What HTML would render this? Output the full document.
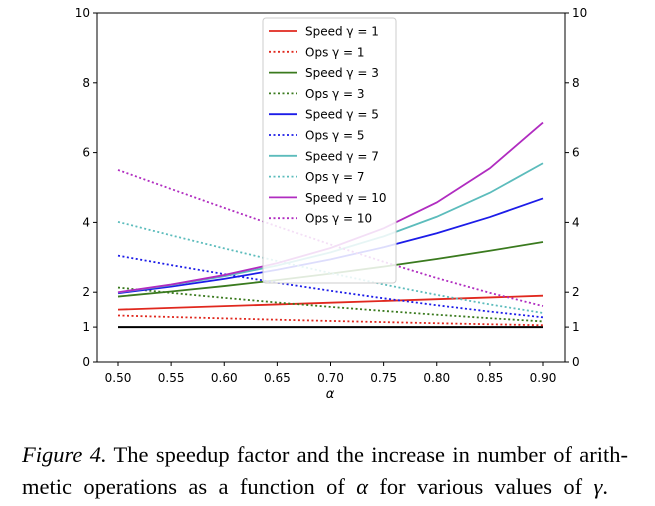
<!DOCTYPE html>
<html><head><meta charset="utf-8"><style>
body{margin:0;background:#fff;width:655px;height:506px;overflow:hidden}
svg text{font-family:"DejaVu Sans",sans-serif}
.cap{position:absolute;left:22px;top:439px;font-family:"Liberation Serif",serif;font-size:22.5px;line-height:32px;color:#000}
.ln{display:block;text-align:justify;text-align-last:justify;white-space:nowrap}
</style></head><body>
<svg id="chart" width="655" height="430" style="position:absolute;left:0;top:0"></svg>
<div class="cap"><span class="ln" style="width:606px"><i>Figure 4.</i> The speedup factor and the increase in number of arith-</span><span class="ln" style="width:586px">metic operations as a function of <i>α</i> for various values of <i>γ</i>.</span></div>
<script>
const alphas=[0.50,0.55,0.60,0.65,0.70,0.75,0.80,0.85,0.90];
const speed1=[1.5,1.55,1.6,1.65,1.7,1.75,1.8,1.85,1.9];
const ops1=[1.333,1.290,1.25,1.212,1.176,1.143,1.111,1.081,1.053];
const speed3=[1.875,2.019,2.176,2.347,2.533,2.734,2.952,3.187,3.439];
const ops3=[2.133,1.981,1.838,1.704,1.579,1.463,1.355,1.255,1.163];
const speed5=[1.969,2.161,2.383,2.642,2.941,3.288,3.690,4.153,4.686];
const ops5=[3.047,2.777,2.518,2.271,2.040,1.825,1.626,1.445,1.280];
const speed7=[1.992,2.204,2.458,2.766,3.141,3.600,4.161,4.850,5.695];
const ops7=[4.016,3.630,3.255,2.892,2.547,2.222,1.923,1.649,1.405];
const speed10=[1.999,2.219,2.491,2.832,3.267,3.831,4.571,5.551,6.862];
const ops10=[5.503,4.957,4.416,3.884,3.367,2.871,2.406,1.982,1.603];
const xTicks=[0.50,0.55,0.60,0.65,0.70,0.75,0.80,0.85,0.90];
const yTicks=[0,1,2,4,6,8,10];
const seriesNames=["Speed γ = 1","Ops γ = 1","Speed γ = 3","Ops γ = 3","Speed γ = 5","Ops γ = 5","Speed γ = 7","Ops γ = 7","Speed γ = 10","Ops γ = 10"];
const seriesData=[speed1,ops1,speed3,ops3,speed5,ops5,speed7,ops7,speed10,ops10];
const colors=["#e0281e","#e0281e","#3a7a1e","#3a7a1e","#1c1ce8","#1c1ce8","#5cbcbc","#5cbcbc","#b02cc0","#b02cc0"];
const L=97,R=565,T=13,B=362;
const xs=a=>118+(a-0.5)/0.4*(543-118);
const ys=v=>B-v*(B-T)/10;
const ns="http://www.w3.org/2000/svg";
const svg=document.getElementById('chart');
function mk(t,at,p){const e=document.createElementNS(ns,t);for(const k in at)e.setAttribute(k,at[k]);(p||svg).appendChild(e);return e;}
let bl=mk('line',{x1:xs(0.5),x2:xs(0.9),y1:ys(1),y2:ys(1),stroke:'#000','stroke-width':2});


seriesData.forEach((d,i)=>{
 const p=mk('polyline',{points:d.map((v,j)=>xs(alphas[j])+','+ys(v)).join(' '),fill:'none',stroke:colors[i],'stroke-width':1.8,'stroke-dasharray':i%2?'2,2.5':'none'});
 
 
});
const fr=mk('rect',{x:L,y:T,width:R-L,height:B-T,fill:'none',stroke:'#000','stroke-width':1});


xTicks.forEach(a=>{
 mk('line',{x1:xs(a),x2:xs(a),y1:B,y2:B+4,stroke:'#000'});
 const t=mk('text',{x:xs(a),y:B+20,'text-anchor':'middle','font-size':12});t.textContent=a.toFixed(2);
 
 
});
yTicks.forEach(v=>{
 mk('line',{x1:L-4,x2:L,y1:ys(v),y2:ys(v),stroke:'#000'});
 mk('line',{x1:R,x2:R+4,y1:ys(v),y2:ys(v),stroke:'#000'});
 const t=mk('text',{x:L-7,y:ys(v)+4,'text-anchor':'end','font-size':12});t.textContent=v;
 
 
 const t2=mk('text',{x:R+7,y:ys(v)+4,'text-anchor':'start','font-size':12});t2.textContent=v;
 
 
});
const xl=mk('text',{x:330,y:398,'text-anchor':'middle','font-size':13,'font-style':'italic'});xl.textContent='α';


const lg=mk('g',{});


mk('rect',{x:263,y:18,width:133,height:265,fill:'#fff','fill-opacity':0.85,stroke:'#ccc',rx:3},lg);
seriesNames.forEach((n,i)=>{
 const y=31+i*20.8;
 mk('line',{x1:269,x2:297,y1:y,y2:y,stroke:colors[i],'stroke-width':1.8,'stroke-dasharray':i%2?'2,2.5':'none'},lg);
 const t=mk('text',{x:305,y:y+4.5,'font-size':12},lg);t.textContent=n;
 
 
});
</script>
</body></html>
